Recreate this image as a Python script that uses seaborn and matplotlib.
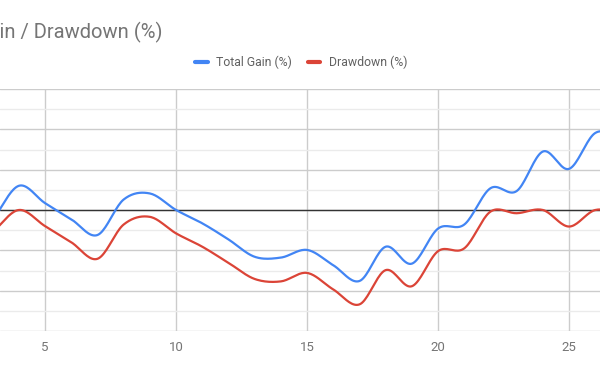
import numpy as np
import pandas as pd
import matplotlib
matplotlib.use("Agg")
import matplotlib.pyplot as plt
import seaborn as sns
from matplotlib.lines import Line2D

# ---- data ----
days = [3, 4, 5, 6, 7, 8, 9, 10, 11, 12, 13, 14, 15, 16, 17, 18, 19, 20, 21, 22, 23, 24, 25, 26, 27]
total_gain = [-2.5, 6.0, 1.7, -2.3, -6.2, 2.6, 4.1, 0.0, -3.3, -7.3, -11.6, -11.8, -9.9, -13.7, -17.6,
              -9.1, -13.3, -4.6, -3.6, 5.4, 4.7, 14.5, 10.2, 19.1, 18.0]
drawdown = [-5.5, 0.0, -4.0, -8.0, -12.1, -3.6, -1.7, -5.8, -9.1, -13.1, -17.1, -17.7, -15.6, -19.7, -23.4,
            -14.9, -18.9, -10.2, -9.5, -0.4, -0.8, 0.0, -4.1, 0.0, -1.0]
series_names = ["Total Gain (%)", "Drawdown (%)"]
colors = ["#4285F4", "#DB4437"]
title = "Total Gain / Drawdown (%)"
x_ticks = [5, 10, 15, 20, 25]


def smooth(x, y, n=20):
    """Catmull-Rom (cubic Hermite) rendering of a 'function' curve."""
    x = np.asarray(x, float)
    y = np.asarray(y, float)
    m = np.zeros_like(y)
    m[1:-1] = (y[2:] - y[:-2]) / (x[2:] - x[:-2])
    m[0] = (y[1] - y[0]) / (x[1] - x[0])
    m[-1] = (y[-1] - y[-2]) / (x[-1] - x[-2])
    xs, ys = [], []
    for i in range(len(x) - 1):
        h = x[i + 1] - x[i]
        t = np.linspace(0, 1, n, endpoint=False)
        h00 = 2 * t**3 - 3 * t**2 + 1
        h10 = t**3 - 2 * t**2 + t
        h01 = -2 * t**3 + 3 * t**2
        h11 = t**3 - t**2
        xs.append(x[i] + t * h)
        ys.append(h00 * y[i] + h10 * h * m[i] + h01 * y[i + 1] + h11 * h * m[i + 1])
    xs.append([x[-1]])
    ys.append([y[-1]])
    return np.concatenate(xs), np.concatenate(ys)


frames = []
for name, vals in zip(series_names, [total_gain, drawdown]):
    sx, sy = smooth(days, vals)
    frames.append(pd.DataFrame({"day": sx, "value": sy, "series": name}))
df = pd.concat(frames, ignore_index=True)

sns.set_theme(style="white")
plt.rcParams["font.family"] = ["Roboto", "DejaVu Sans"]

fig = plt.figure(figsize=(6, 3.71), dpi=100)
ax = fig.add_axes([0, (371 - 331) / 371, 1, (331 - 89) / 371])

sns.lineplot(data=df, x="day", y="value", hue="series", palette=colors,
             hue_order=series_names, linewidth=1.6, ax=ax, legend=False, sort=False,
             estimator=None)

ax.set_xlim(3.28, 26.18)
ax.set_ylim(-30, 30)
ax.set_yticks(np.arange(-30, 31, 10))
ax.set_yticks(np.arange(-25, 30, 10), minor=True)
ax.set_xticks(x_ticks)
ax.grid(True, which="major", axis="both", color="#cccccc", linewidth=1.0)
ax.grid(True, which="minor", axis="y", color="#ebebeb", linewidth=1.0)
ax.axhline(0, color="#333333", linewidth=1.0, zorder=1.5)
ax.set_axisbelow(True)
for s in ax.spines.values():
    s.set_visible(False)
ax.tick_params(axis="y", which="both", left=False, labelleft=False)
ax.tick_params(axis="x", length=0, pad=7, labelsize=9.5, labelcolor="#757575")
ax.set_xlabel("")
ax.set_ylabel("")

fig.text(162 / 600, 1 - 38 / 371, title, ha="right", va="baseline",
         fontsize=14.5, color="#757575")

handles = [Line2D([], [], color=c, linewidth=3) for c in colors]
fig.legend(handles, series_names, loc="center", bbox_to_anchor=(0.502, 1 - 62.7 / 371),
           ncol=2, frameon=False, handlelength=1.0, handletextpad=0.7, columnspacing=1.3,
           prop={"size": 8.8}, labelcolor="#616161")

fig.savefig("out.png", dpi=100)
